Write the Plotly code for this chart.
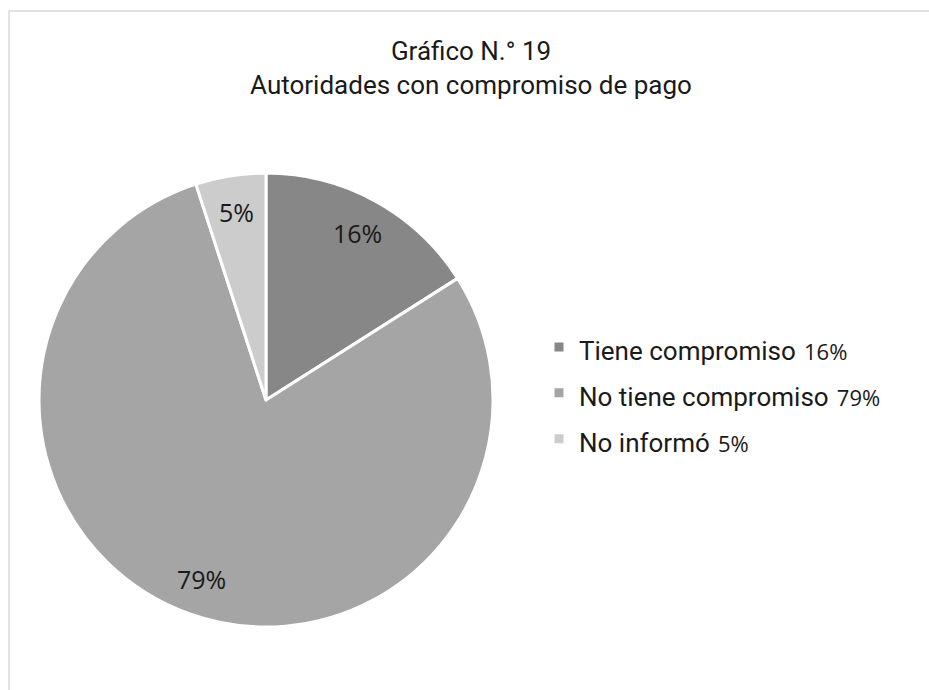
import math
import plotly.graph_objects as go

categories = ["Tiene compromiso", "No tiene compromiso", "No informó"]
values = [16, 79, 5]
colors = ["#878787", "#a5a5a5", "#cccccc"]

W, H = 929, 690
CX, CY, R = 266, 400, 227  # pie centre and radius in pixels
LABEL_R = 0.84

legend_labels = [
    f"<span style='font-size:26px'>{c}</span> <span style='font-family:Open Sans;font-size:22px'>{v}%</span>"
    for c, v in zip(categories, values)
]

fig = go.Figure(go.Pie(
    labels=legend_labels,
    values=values,
    sort=False,
    direction="clockwise",
    rotation=0,
    marker=dict(colors=colors, line=dict(color="white", width=3)),
    textinfo="none",
    hoverinfo="label+percent",
    domain=dict(x=[(CX - R) / W, (CX + R) / W], y=[(H - CY - R) / H, (H - CY + R) / H]),
))

# percentage labels placed at each slice's mid angle
total = sum(values)
cum = 0
annotations = []
for v in values:
    mid = (cum + v / 2) / total * 2 * math.pi
    cum += v
    px = CX + LABEL_R * R * math.sin(mid)
    py = CY - LABEL_R * R * math.cos(mid)
    annotations.append(dict(
        x=px / W, y=1 - py / H, xref="paper", yref="paper",
        xanchor="center", yanchor="middle",
        text=f"{round(v / total * 100)}%", showarrow=False,
        font=dict(family="Open Sans", size=25, color="#1a1a1a"),
    ))

fig.update_layout(
    width=W, height=H,
    margin=dict(l=0, r=0, t=0, b=0),
    paper_bgcolor="white",
    title=dict(
        text="Gráfico N.° 19<br>Autoridades con compromiso de pago",
        x=471 / W, xanchor="center", y=1 - 60 / H, yanchor="top",
        font=dict(family="Roboto", size=26, color="#1a1a1a"),
    ),
    legend=dict(
        x=539 / W, xanchor="left", y=1 - 393 / H, yanchor="middle",
        font=dict(family="Roboto", size=33, color="#1a1a1a"),
        bgcolor="rgba(0,0,0,0)",
        itemclick=False,
    ),
    annotations=annotations,
    shapes=[dict(
        type="rect", xref="paper", yref="paper",
        x0=9 / W, x1=1.02, y0=-0.02, y1=1 - 11 / H,
        line=dict(color="#d9d9d9", width=1.5), layer="below",
    )],
)

fig.write_html("out.html")
